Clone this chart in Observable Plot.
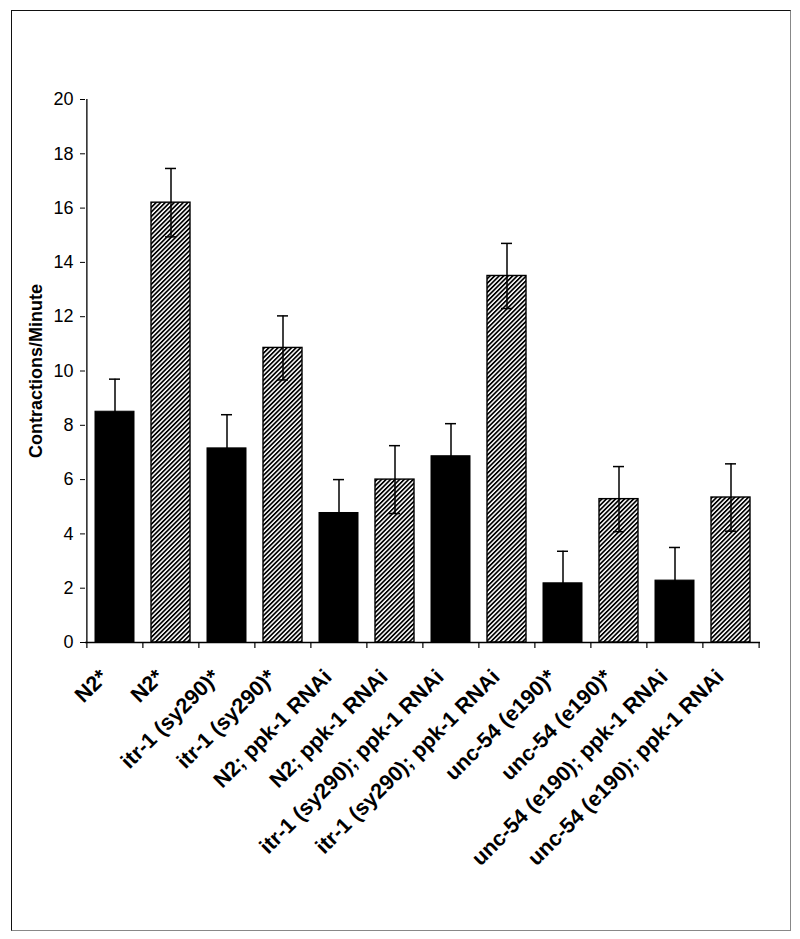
<!DOCTYPE html>
<html><head><meta charset="utf-8">
<script src="https://cdn.jsdelivr.net/npm/d3@7"></script>
<script src="https://cdn.jsdelivr.net/npm/@observablehq/plot@0.6"></script>
<style>
body{margin:0;background:#fff;}
#wrap{position:relative;width:800px;height:939px;overflow:hidden;}
#frame{position:absolute;left:11px;top:10px;width:780px;height:921px;border-left:1.5px solid #111;border-top:1.5px solid #111;border-right:1.5px solid #888;border-bottom:1.5px solid #888;box-sizing:border-box;}
#chart{position:absolute;left:0;top:0;}
#chart g[aria-label="y-axis label"]{font-weight:bold;font-size:18px;}
#chart g[aria-label="x-axis tick label"]{font-weight:bold;}
</style></head><body>
<div id="wrap"><div id="frame"></div><div id="chart"></div></div>
<script>
const labels = ["N2*","N2*","itr-1 (sy290)*","itr-1 (sy290)*","N2; ppk-1 RNAi","N2; ppk-1 RNAi","itr-1 (sy290); ppk-1 RNAi","itr-1 (sy290); ppk-1 RNAi","unc-54 (e190)*","unc-54 (e190)*","unc-54 (e190); ppk-1 RNAi","unc-54 (e190); ppk-1 RNAi"];
const groups = ["solid","hatched","solid","hatched","solid","hatched","solid","hatched","solid","hatched","solid","hatched"];
const values = [8.5,16.2,7.15,10.85,4.77,6.0,6.86,13.5,2.18,5.28,2.28,5.34];
const errors = [1.2,1.26,1.24,1.18,1.23,1.25,1.2,1.2,1.18,1.2,1.22,1.24];
const yTicks = [0,2,4,6,8,10,12,14,16,18,20];
const yLabel = "Contractions/Minute";

const data = labels.map((label, i) => ({key: i, label, group: groups[i], value: values[i], err: errors[i]}));
const keys = data.map(d => d.key);

const W = 800, H = 939, ML = 85, MR = 40, MT = 99, MB = 297;
const step = (W - ML - MR) / keys.length;

const svg = Plot.plot({
  width: W, height: H,
  marginLeft: ML, marginRight: MR, marginTop: MT, marginBottom: MB,
  style: {fontFamily: "'Liberation Sans', Arial, sans-serif", background: "transparent", color: "#000"},
  x: {type: "band", domain: keys, paddingInner: 0.3, paddingOuter: 0.15},
  y: {domain: [0, d3.max(yTicks)]},
  marks: [
    Plot.barY(data.filter(d => d.group === "solid"), {x: "key", y: "value", fill: "#000", stroke: "#000", strokeWidth: 1}),
    Plot.barY(data.filter(d => d.group === "hatched"), {x: "key", y: "value", fill: "url(#hatch)", stroke: "#000", strokeWidth: 1.4}),
    Plot.ruleX(data, {x: "key", y1: d => d.value - d.err, y2: d => d.value + d.err, stroke: "#000", strokeWidth: 1.5}),
    Plot.tickY(data, {x: "key", y: d => d.value + d.err, inset: 14, stroke: "#000", strokeWidth: 1.5}),
    Plot.tickY(data, {x: "key", y: d => d.value - d.err, inset: 14, stroke: "#000", strokeWidth: 1.5}),
    Plot.ruleY([0], {stroke: "#000", strokeWidth: 1.3}),
    Plot.ruleX([keys[0]], {x: d => d, dx: -step / 2, y1: () => 0, y2: () => d3.max(yTicks), stroke: "#000", strokeWidth: 1.3}),
    Plot.ruleX(keys, {x: d => d, dx: -step / 2, y1: () => 0, y2: () => 0, insetBottom: -6, stroke: "#000", strokeWidth: 1.2}),
    Plot.ruleX([keys[keys.length - 1]], {x: d => d, dx: step / 2, y1: () => 0, y2: () => 0, insetBottom: -6, stroke: "#000", strokeWidth: 1.2}),
    Plot.axisY({ticks: yTicks, tickSize: 5, tickPadding: 7, fontSize: 18, label: yLabel, labelAnchor: "center", labelOffset: 56, labelArrow: "none"}),
    Plot.axisX({tickSize: 0, tickRotate: -45, tickPadding: 10, dx: -11, dy: 21, fontSize: 21.5, fontWeight: "bold", tickFormat: i => labels[i], label: null})
  ]
});

const defs = d3.select(svg).insert("defs", ":first-child");
const pat = defs.append("pattern").attr("id", "hatch").attr("patternUnits", "userSpaceOnUse")
  .attr("width", 3.2).attr("height", 3.2).attr("patternTransform", "rotate(45)");
pat.append("rect").attr("width", 3.2).attr("height", 3.2).attr("fill", "#fff");
pat.append("rect").attr("width", 1.7).attr("height", 3.2).attr("fill", "#000");

document.getElementById("chart").appendChild(svg);
</script>
</body></html>
